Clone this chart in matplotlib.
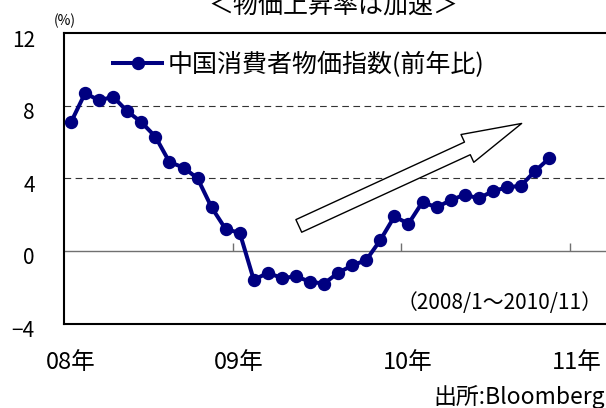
import matplotlib
matplotlib.use("Agg")
import matplotlib.pyplot as plt
from matplotlib.transforms import ScaledTranslation

plt.rcParams['font.family'] = ['Noto Sans CJK JP', 'DejaVu Sans']

# 中国CPI 前年比 (2008/1 ~ 2010/11)
cpi_2008 = [7.1, 8.7, 8.3, 8.5, 7.7, 7.1, 6.3, 4.9, 4.6, 4.0, 2.4, 1.2]
cpi_2009 = [1.0, -1.6, -1.2, -1.5, -1.4, -1.7, -1.8, -1.2, -0.8, -0.5, 0.6, 1.9]
cpi_2010 = [1.5, 2.7, 2.4, 2.8, 3.1, 2.9, 3.3, 3.5, 3.6, 4.4, 5.1]
cpi = cpi_2008 + cpi_2009 + cpi_2010

year_labels = ['08年', '09年', '10年', '11年']
y_ticks = [-4, 0, 4, 8, 12]
y_labels = ['\u22124', '0', '4', '8', '12']

navy = '#000080'

fig = plt.figure(figsize=(6.06, 4.08), dpi=100)
ax = fig.add_axes([64 / 606, 84.5 / 408, 40 * 14.06 / 606, 290.2 / 408])

months = [i + 0.5 for i in range(len(cpi))]
ax.plot(months, cpi, color=navy, lw=2.9, marker='o', ms=8.6,
        label='中国消費者物価指数(前年比)', zorder=3)

ax.set_xlim(0, 40)
ax.set_ylim(-4, 12)

# grid / zero line
for g in (4, 8):
    ax.axhline(g, color='#333333', lw=0.8, dashes=(6, 4), zorder=1)
ax.axhline(0, color='#707070', lw=1.0, zorder=2)
year_pos = [12 * k for k in range(len(year_labels))]
ax.vlines(year_pos[1:], 0, 8 / 18.1, color='#707070', lw=1.0, zorder=2)

for s in ax.spines.values():
    s.set_linewidth(1.5)
    s.set_color('black')

ax.set_yticks(y_ticks)
ax.set_yticklabels(y_labels, fontsize=15)
ax.tick_params(axis='y', length=0, pad=21)
for lab in ax.get_yticklabels():
    lab.set_transform(lab.get_transform() + ScaledTranslation(0, -5 / 100, fig.dpi_scale_trans))

ax.set_xticks([p + 0.45 for p in year_pos])
ax.set_xticklabels(year_labels, fontsize=17)
ax.tick_params(axis='x', length=0, pad=20)

ax.legend(loc='center left', bbox_to_anchor=(113 / 606, 343 / 408),
          bbox_transform=fig.transFigure, frameon=False, fontsize=18,
          handlelength=1.96, handletextpad=0.24, borderpad=0, borderaxespad=0)

# trend arrow
ax.annotate('', xy=(32.55, 7.03), xytext=(16.7, 1.38),
            arrowprops=dict(arrowstyle='simple,head_length=43,head_width=22,tail_width=10',
                            mutation_scale=1, fc='white', ec='black', lw=1.0,
                            shrinkA=0, shrinkB=0), zorder=2)

fig.text(333 / 606, 402 / 408, '＜物価上昇率は加速＞', ha='center', va='center', fontsize=18)
fig.text(65 / 606, 387 / 408, '(%)', ha='center', va='center', fontsize=10)
fig.text(603 / 606, 105 / 408, '（2008/1〜2010/11）', ha='right', va='center', fontsize=15)
fig.text(433 / 606, 11 / 408, '出所:Bloomberg', ha='left', va='center', fontsize=16.5)

fig.savefig('out.png', dpi=100)
